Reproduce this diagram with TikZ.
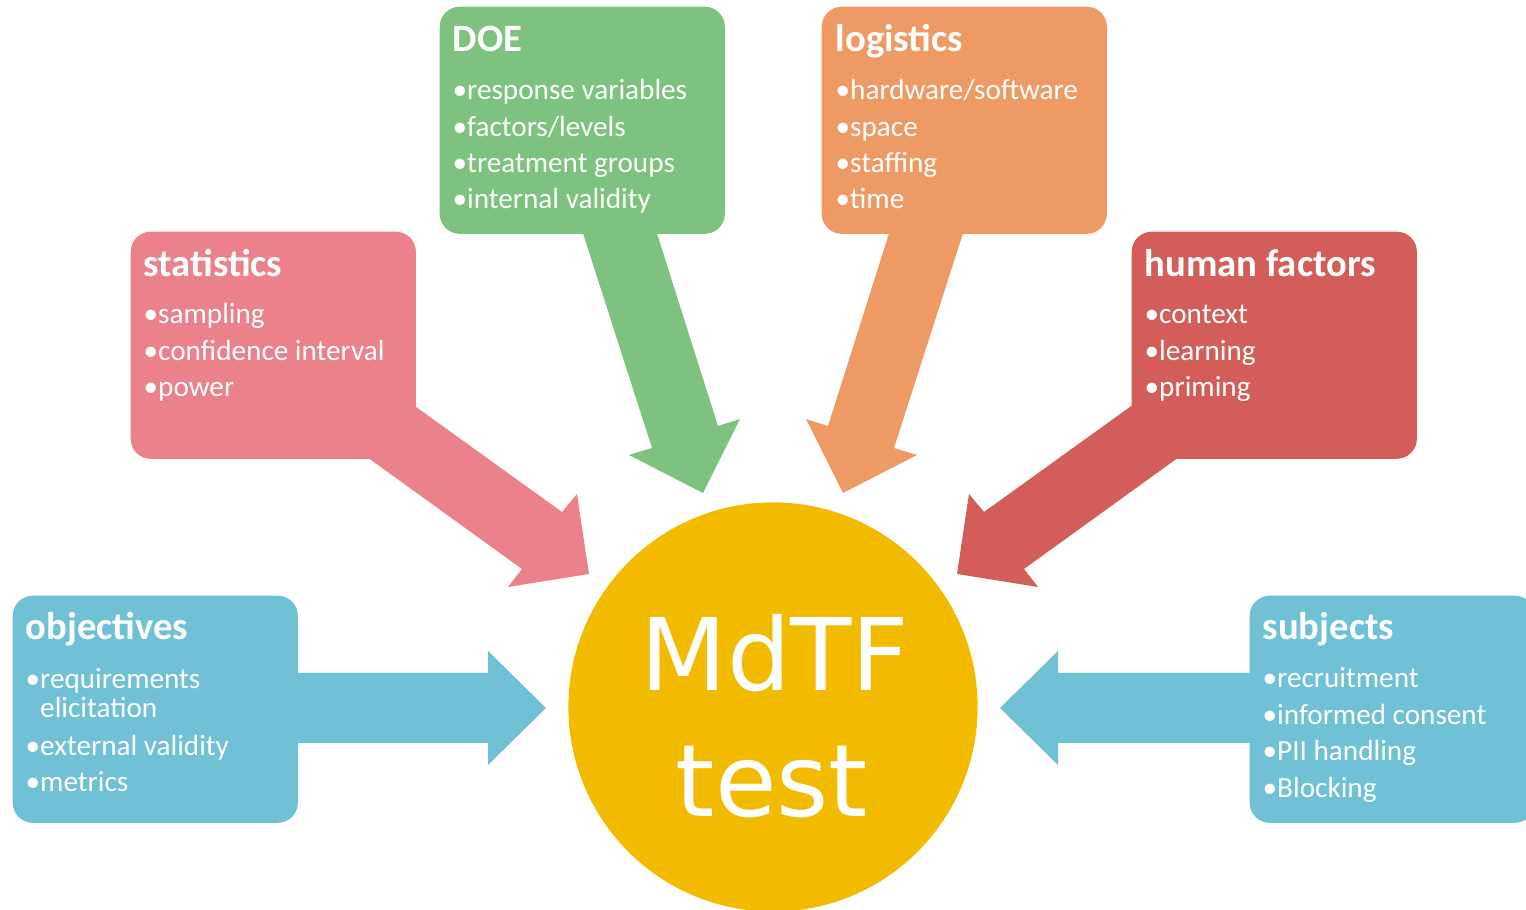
\documentclass[tikz,border=0pt]{standalone}
\usepackage{fontspec}
\setmainfont{Carlito}
\newfontfamily\corefont{DejaVu Sans}
\usetikzlibrary{positioning}

\definecolor{objblue}{HTML}{70C1D6}
\definecolor{statpink}{HTML}{EB818B}
\definecolor{doegreen}{HTML}{7DC37F}
\definecolor{logorange}{HTML}{EE9A65}
\definecolor{humred}{HTML}{D35E59}
\definecolor{coregold}{HTML}{F2BB00}

\tikzset{
  topic/.style={rounded corners=5.7pt, inner sep=0pt, anchor=north west,
    minimum width=2.85cm, minimum height=2.27cm},
  head/.style={text=white, inner sep=0pt, anchor=base west,
    font=\bfseries\fontsize{11}{13}\selectfont},
  item/.style={text=white, inner sep=0pt, anchor=base west,
    font=\fontsize{8.3}{10}\selectfont},
  core/.style={circle, fill=coregold, inner sep=0pt, minimum size=4.09cm},
  bigtext/.style={text=white, inner sep=0pt, anchor=base,
    font=\corefont\fontsize{28.5}{34}\selectfont},
}

\begin{document}
\begin{tikzpicture}[x=0.01cm, y=-0.01cm]
    \useasboundingbox (0,0) rectangle (1526,910);

    % block arrows
    \fill[objblue] (290,673) -- (488,673) -- (488,651) -- (546,708) -- (488,765) -- (488,743) -- (290,743) -- cycle;
    \fill[objblue] (1256,673) -- (1058,673) -- (1058,651) -- (1000,708) -- (1058,765) -- (1058,743) -- (1256,743) -- cycle;
    \fill[statpink] (405,399) -- (562,512) -- (577,494) -- (589,574) -- (508,587) -- (522,569) -- (360,452) -- cycle;
    \fill[humred] (1141,399) -- (984,512) -- (969,494) -- (957,574) -- (1038,587) -- (1024,569) -- (1186,452) -- cycle;
    \fill[doegreen] (580,224) -- (652,448) -- (629,455) -- (703,493) -- (740,419) -- (718,426) -- (654,224) -- cycle;
    \fill[logorange] (966,224) -- (894,448) -- (917,455) -- (843,493) -- (806,419) -- (828,426) -- (892,224) -- cycle;

    % boxes
    \node[topic, fill=objblue] (obj) at (12,595) {};
    \node[topic, fill=objblue] (subj) at (1249,595) {};
    \node[topic, fill=statpink] (stat) at (130,231) {};
    \node[topic, fill=humred] (hum) at (1131,231) {};
    \node[topic, fill=doegreen] (doe) at (439,6) {};
    \node[topic, fill=logorange] (log) at (821,6) {};

    % centre
    \node[core] (test) at (773,707) {};
    \node[bigtext] (mdtf-l1) at (775,691) {MdTF};
    \node[bigtext] (mdtf-l2) at (772,817) {test};

    % texts
    \node[head] (obj-h) at (25,640) {objectives};
    \node[item] (obj-1) at (25,689) {•requirements};
    \node[item] (obj-1b) at (25,718) {\hphantom{•}elicitation};
    \node[item] (obj-2) at (25,756) {•external validity};
    \node[item] (obj-3) at (25,792) {•metrics};

    \node[head] (subj-h) at (1262,640) {subjects};
    \foreach \txt [count=\i] in {recruitment, informed consent, PII handling, Blocking}
        \node[item] (subj-\i) at (1262,688+36.5*\i-36.5) {•\txt};

    \node[head] (stat-h) at (143,277) {statistics};
    \foreach \txt [count=\i] in {sampling, confidence interval, power}
        \node[item] (stat-\i) at (143,324+36.5*\i-36.5) {•\txt};

    \node[head] (hum-h) at (1144,277) {human factors};
    \foreach \txt [count=\i] in {context, learning, priming}
        \node[item] (hum-\i) at (1144,324+36.5*\i-36.5) {•\txt};

    \node[head] (doe-h) at (452,52) {DOE};
    \foreach \txt [count=\i] in {response variables, factors/levels, treatment groups, internal validity}
        \node[item] (doe-\i) at (452,100+36.2*\i-36.2) {•\txt};

    \node[head] (log-h) at (835,52) {logistics};
    \foreach \txt [count=\i] in {hardware/software, space, staffing, time}
        \node[item] (log-\i) at (835,100+36.2*\i-36.2) {•\txt};
\end{tikzpicture}
\end{document}
